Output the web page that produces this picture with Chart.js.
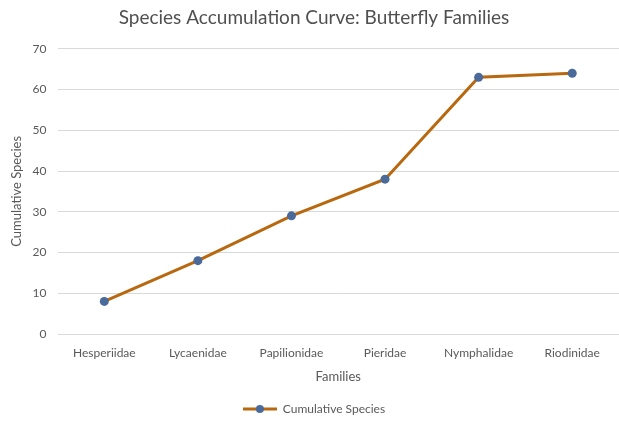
<!DOCTYPE html>
<html>
<head>
<meta charset="utf-8">
<script src="https://cdn.jsdelivr.net/npm/chart.js@4/dist/chart.umd.min.js"></script>
<style>
  html, body { margin: 0; padding: 0; background: #fff; }
  #wrap { width: 619px; height: 425px; }
</style>
</head>
<body>
<div id="wrap"><canvas id="chart"></canvas></div>
<script>
// chart data
const families = ["Hesperiidae", "Lycaenidae", "Papilionidae", "Pieridae", "Nymphalidae", "Riodinidae"];
const cumulativeSpecies = [8, 18, 29, 38, 63, 64];
const yTicks = [0, 10, 20, 30, 40, 50, 60, 70];

const lineColor = "#B8680F";
const markerColor = "#4A6A9A";
const textColor = "#595959";
const fontFamily = "Lato, 'Open Sans', sans-serif";

// little legend swatch: line with a dot in the middle
function legendSwatch() {
  const c = document.createElement("canvas");
  c.width = 34; c.height = 10;
  const ctx = c.getContext("2d");
  ctx.strokeStyle = lineColor;
  ctx.lineWidth = 3;
  ctx.beginPath();
  ctx.moveTo(0, 5); ctx.lineTo(34, 5);
  ctx.stroke();
  ctx.fillStyle = markerColor;
  ctx.beginPath();
  ctx.arc(17, 5, 4, 0, Math.PI * 2);
  ctx.fill();
  return c;
}
const swatch = legendSwatch();

new Chart(document.getElementById("chart").getContext("2d"), {
  type: "line",
  data: {
    labels: families,
    datasets: [{
      label: "Cumulative Species",
      data: cumulativeSpecies,
      borderColor: lineColor,
      borderWidth: 3,
      backgroundColor: markerColor,
      pointBackgroundColor: markerColor,
      pointBorderColor: markerColor,
      pointBorderWidth: 0,
      pointRadius: 4.5,
      tension: 0
    }]
  },
  options: {
    responsive: true,
    maintainAspectRatio: false,
    animation: false,
    layout: { autoPadding: false, padding: { left: 9, right: 0, top: 6, bottom: 0 } },
    plugins: {
      title: {
        display: true,
        text: "Species Accumulation Curve: Butterfly Families",
        color: "#505050",
        font: { family: fontFamily, size: 19, weight: "normal" },
        padding: { top: 0, bottom: 20 }
      },
      legend: {
        position: "bottom",
        labels: {
          color: textColor,
          font: { family: fontFamily, size: 12 },
          usePointStyle: true,
          pointStyleWidth: 34,
          padding: 3,
          generateLabels: chart => chart.data.datasets.map((ds, i) => ({
            text: ds.label,
            pointStyle: swatch,
            fontColor: textColor,
            datasetIndex: i
          }))
        }
      },
      tooltip: { enabled: false }
    },
    scales: {
      x: {
        offset: true,
        afterFit: s => { s.paddingRight = 0; s.paddingLeft = 0; },
        grid: { display: false },
        border: { display: false },
        ticks: { color: textColor, padding: 4, maxRotation: 0, font: { family: fontFamily, size: 12 } },
        title: {
          display: true,
          text: "Families",
          color: textColor,
          font: { family: fontFamily, size: 13 },
          padding: { top: 5, bottom: 15 }
        }
      },
      y: {
        min: 0,
        max: 70,
        afterBuildTicks: axis => { axis.ticks = yTicks.map(v => ({ value: v })); },
        grid: { color: "#D9D9D9", lineWidth: 1, drawTicks: false },
        border: { display: false },
        ticks: { color: textColor, padding: 11, font: { family: fontFamily, size: 12 } },
        title: {
          display: true,
          text: "Cumulative Species",
          color: textColor,
          font: { family: fontFamily, size: 13 },
          padding: { top: 0, bottom: -3 }
        }
      }
    }
  }
});
</script>
</body>
</html>
